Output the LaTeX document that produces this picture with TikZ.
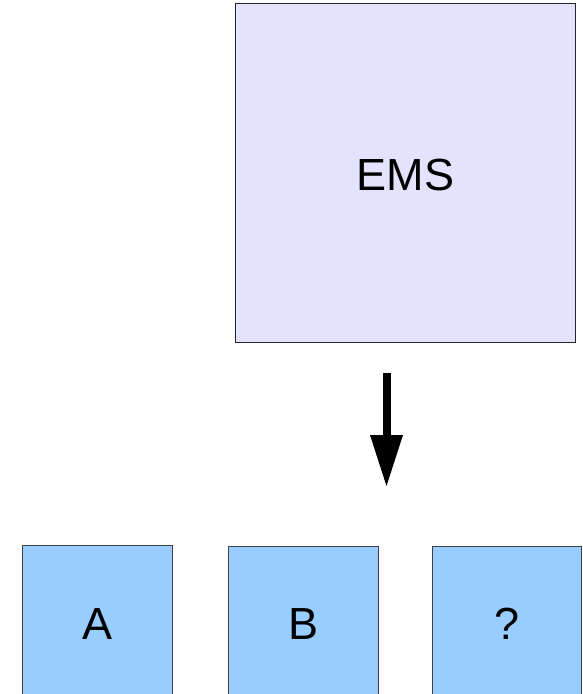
\documentclass[tikz,border=0pt]{standalone}
\usepackage{fontspec}
\setmainfont{Liberation Sans}
\begin{document}
\begin{tikzpicture}[x=1pt,y=-1pt,
  bigbox/.style={draw=black!85,line width=0.8pt,fill=emsfill},
  smallbox/.style={draw=black!75,line width=0.8pt,fill=partfill},
  lbl/.style={font=\fontsize{45}{45}\selectfont}]
  \definecolor{emsfill}{HTML}{E3E3FE}
  \definecolor{partfill}{HTML}{99CCFF}
  \useasboundingbox (0,0) rectangle (583,694);
  \clip (0,0) rectangle (583,694);
  % main block
  \draw[bigbox] (235.5,3.5) rectangle (575.5,342.5);
  \node[lbl] (ems) at (405.5,175) {EMS};
  % downward arrow: straight shaft and a wide triangular head
  \coordinate (arrtip) at (386.5,486);
  \fill (382.5,373) rectangle (390.5,436);
  \fill (370,435) -- (403,435) -- (arrtip) -- cycle;
  % parts
  \draw[smallbox] (22.5,545.5) rectangle (172.5,700);
  \draw[smallbox] (228.5,546.5) rectangle (378.5,700);
  \draw[smallbox] (432.5,546.5) rectangle (581.5,700);
  \node[lbl] (a) at (97.5,624) {A};
  \node[lbl] (b) at (303.5,624) {B};
  \node[lbl] (q) at (507,624) {?};
\end{tikzpicture}
\end{document}
